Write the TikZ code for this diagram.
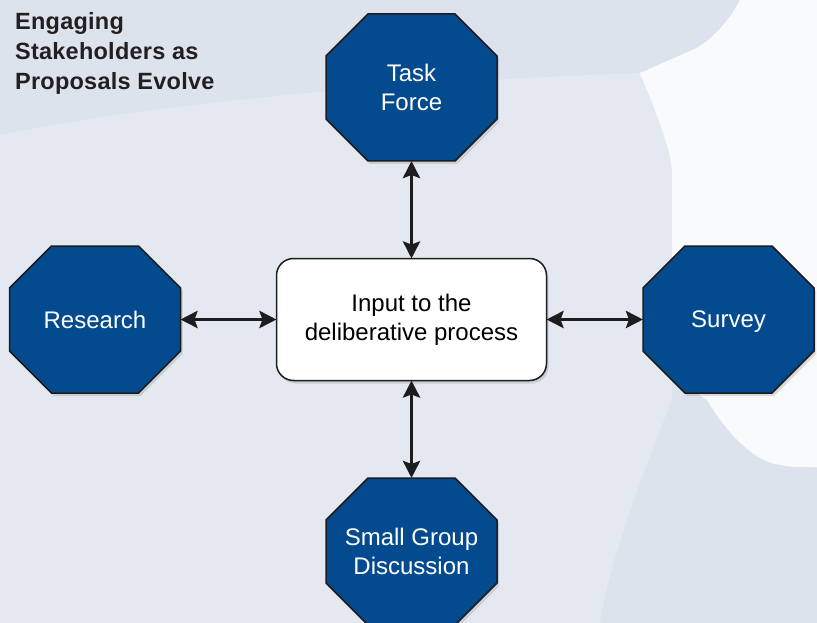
\documentclass[tikz,border=0pt]{standalone}
\usepackage{fontspec}
\setmainfont{Liberation Sans}
\newfontfamily\titlefont[LetterSpace=1]{Liberation Sans}
\usetikzlibrary{positioning,arrows.meta,calc,shadows,backgrounds}

\definecolor{octblue}{RGB}{4,74,142}
\definecolor{bgblue}{RGB}{221,227,237}
\definecolor{bglight}{RGB}{227,232,241}
\definecolor{bgwhite}{RGB}{249,250,252}
\definecolor{inkdark}{RGB}{30,28,30}

\begin{document}
\begin{tikzpicture}[x=1pt, y=-1pt,
    octo/.style={minimum width=171pt, minimum height=147pt, inner sep=0pt, outer sep=0pt,
        text depth=0pt, text=white, align=center, font=\fontsize{24}{29}\selectfont},
    inbox/.style={draw=inkdark, line width=1.5pt, fill=white, rounded corners=17pt, outer sep=0pt,
        minimum width=270pt, minimum height=122pt, align=center, font=\fontsize{24}{29}\selectfont,
        drop shadow={shadow xshift=2pt, shadow yshift=-3pt, opacity=.25}},
    link/.style={{Stealth[length=17pt,width=17pt,inset=3pt]}-{Stealth[length=17pt,width=17pt,inset=3pt]},
        line width=3.5pt, draw=inkdark},
]
    \useasboundingbox (0,0) rectangle (817,623);

    \node[octo] (task) at (411.5, 87.5) {Task\\Force};
    \node[octo] (research) at (95, 319.5) {Research};
    \node[octo] (survey) at (728.5, 319.5) {Survey};
    \node[octo] (group) at (411.5, 551.5) {Small Group\\Discussion};
    \node[inbox] (input) at (411.5, 319.5) {Input to the\\deliberative process};

    \node[anchor=north west, inner sep=0pt, align=left, text={rgb,255:red,35;green,31;blue,32},
        font=\titlefont\bfseries\fontsize{23.5}{30}\selectfont] (title) at (15, 12.5)
        {Engaging\\Stakeholders as\\Proposals Evolve};

    \draw[link] (task.south) -- (input.north);
    \draw[link] (research.east) -- (input.west);
    \draw[link] (input.east) -- (survey.west);
    \draw[link] (input.south) -- (group.north);

    \begin{scope}[on background layer]
        \fill[bgblue] (0,0) rectangle (817,623);
        \fill[bglight] (0,135) .. controls (200,95) and (450,80) .. (640,73)
            .. controls (655,110) and (672,150) .. (672,175) -- (672,400)
            .. controls (640,480) and (610,560) .. (600,623) -- (0,623) -- cycle;
        \fill[bgwhite] (740,0) .. controls (725,28) and (705,45) .. (690,51) -- (640,73)
            .. controls (655,110) and (672,150) .. (672,175) -- (672,330)
            .. controls (672,365) and (690,390) .. (707,400)
            .. controls (725,430) and (750,458) .. (775,464)
            .. controls (790,467) .. (817,467) -- (817,0) -- cycle;
        \foreach \n in {task,research,survey,group}
            \filldraw[fill=octblue, draw=inkdark, line width=1.5pt,
                drop shadow={shadow xshift=2pt, shadow yshift=-3pt, opacity=.25}]
                ($(\n.north west)+(42pt,0)$) -- ($(\n.north east)+(-42pt,0)$)
                -- ($(\n.north east)+(0,-42pt)$) -- ($(\n.south east)+(0,42pt)$)
                -- ($(\n.south east)+(-42pt,0)$) -- ($(\n.south west)+(42pt,0)$)
                -- ($(\n.south west)+(0,42pt)$) -- ($(\n.north west)+(0,-42pt)$) -- cycle;
    \end{scope}
\end{tikzpicture}
\end{document}
